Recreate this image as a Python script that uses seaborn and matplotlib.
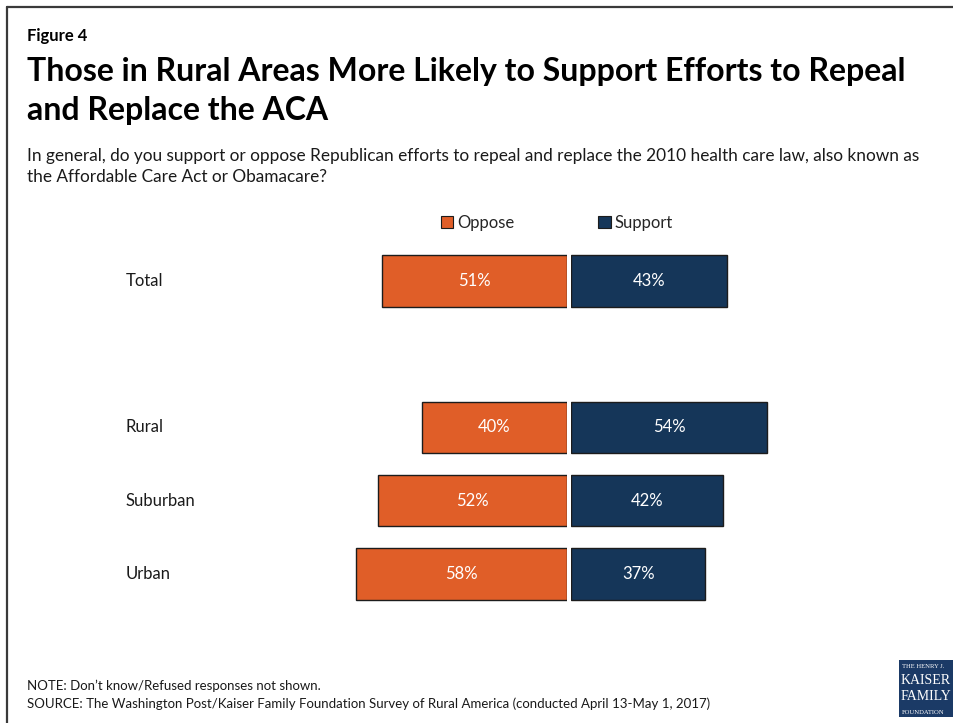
import matplotlib
matplotlib.use("Agg")
import matplotlib.pyplot as plt
import matplotlib.transforms as mtransforms
from matplotlib.patches import Patch, Rectangle
from matplotlib.lines import Line2D
import pandas as pd
import seaborn as sns

# Survey results (percent)
groups = ["Total", "Rural", "Suburban", "Urban"]
oppose = [51, 40, 52, 58]
support = [43, 54, 42, 37]
# a blank slot separates the total from the breakdown by area
order = ["Total", " ", "Rural", "Suburban", "Urban"]

ORANGE = "#E05E28"
NAVY = "#153659"
EDGE = "#1c1c1c"

sns.set_theme(style="white")
plt.rcParams["font.family"] = ["Lato", "DejaVu Sans"]

df = pd.DataFrame({"group": groups, "Oppose": oppose, "Support": support})

W, H = 954, 723
fig = plt.figure(figsize=(W / 100, H / 100), dpi=100)
fig.patch.set_facecolor("white")

px_per_pct = 3.63
slot = 73.3
center_first, center_last = 281, 574
top_px = center_first - slot / 2
bot_px = center_last + slot / 2
ax_bottom = 1 - bot_px / H
ax_height = (bot_px - top_px) / H

left_l, right_l = 300, 567
left_r, right_r = 571, 900
axL = fig.add_axes([left_l / W, ax_bottom, (right_l - left_l) / W, ax_height])
axR = fig.add_axes([left_r / W, ax_bottom, (right_r - left_r) / W, ax_height])

sns.barplot(data=df, y="group", x="Oppose", order=order, ax=axL, color=ORANGE,
            saturation=1, width=0.7, errorbar=None, edgecolor=EDGE, linewidth=1.0)
sns.barplot(data=df, y="group", x="Support", order=order, ax=axR, color=NAVY,
            saturation=1, width=0.7, errorbar=None, edgecolor=EDGE, linewidth=1.0)

axL.set_xlim((right_l - left_l) / px_per_pct, 0)
axR.set_xlim(0, (right_r - left_r) / px_per_pct)
for ax in (axL, axR):
    ax.set_ylim(len(order) - 0.5, -0.5)
    ax.axis("off")
    for c in ax.containers:
        ax.bar_label(c, fmt="{:.0f}%", label_type="center", color="white", fontsize=12)

# category names down the left side
trans = mtransforms.blended_transform_factory(fig.transFigure, axL.transData)
for g in groups:
    axL.text(126 / W, order.index(g), g, transform=trans, ha="left", va="center",
             fontsize=12, color="#1a1a1a")

# legend
handles = [Patch(facecolor=ORANGE, edgecolor=EDGE, linewidth=0.8, label="Oppose"),
           Patch(facecolor=NAVY, edgecolor=EDGE, linewidth=0.8, label="Support")]
fig.legend(handles=handles, loc="center", bbox_to_anchor=(557 / W, 1 - 223 / H),
           ncol=2, frameon=False, fontsize=12, handlelength=0.75, handleheight=0.75,
           handletextpad=0.25, columnspacing=5.0, borderaxespad=0)

# headings
fig.text(27 / W, 1 - 36 / H, "Figure 4", fontsize=12, fontweight="bold",
         ha="left", va="center", color="black")
fig.text(27 / W, 1 - 57 / H,
         "Those in Rural Areas More Likely to Support Efforts to Repeal\nand Replace the ACA",
         fontsize=23, fontweight="bold", ha="left", va="top", color="black",
         linespacing=1.42)
fig.text(27 / W, 1 - 148 / H,
         "In general, do you support or oppose Republican efforts to repeal and replace the 2010 health care law, also known as\n"
         "the Affordable Care Act or Obamacare?",
         fontsize=12.4, ha="left", va="top", color="#1a1a1a", linespacing=1.35)

# footnotes
fig.text(27 / W, 1 - 686 / H, "NOTE: Don\u2019t know/Refused responses not shown.",
         fontsize=9.5, ha="left", va="center", color="#1a1a1a")
fig.text(27 / W, 1 - 704 / H,
         "SOURCE: The Washington Post/Kaiser Family Foundation Survey of Rural America (conducted April 13-May 1, 2017)",
         fontsize=9.5, ha="left", va="center", color="#1a1a1a")

# foundation logo block
fig.patches.append(Rectangle((899 / W, 1 - 717 / H), 70 / W, 57 / H,
                             transform=fig.transFigure, facecolor="#1B3A66",
                             edgecolor="none", zorder=5))
logo_font = ["Liberation Serif", "DejaVu Serif"]
fig.text(902 / W, 1 - 666 / H, "THE HENRY J.", fontsize=4.8, color="white",
         family=logo_font, ha="left", va="center", zorder=6)
fig.text(901 / W, 1 - 681 / H, "KAISER", fontsize=10, color="white",
         family=logo_font, ha="left", va="center", zorder=6)
fig.text(901 / W, 1 - 697 / H, "FAMILY", fontsize=10, color="white",
         family=logo_font, ha="left", va="center", zorder=6)
fig.text(902 / W, 1 - 712 / H, "FOUNDATION", fontsize=4.8, color="white",
         family=logo_font, ha="left", va="center", zorder=6)

# page frame along the left and top edges
fig.lines.append(Line2D([7 / W, 7 / W], [0, 1 - 7 / H], transform=fig.transFigure,
                        color="#3a3a3a", linewidth=1.6))
fig.lines.append(Line2D([7 / W, 1], [1 - 7 / H, 1 - 7 / H], transform=fig.transFigure,
                        color="#3a3a3a", linewidth=1.6))

fig.savefig("out.png", dpi=100, facecolor="white")
